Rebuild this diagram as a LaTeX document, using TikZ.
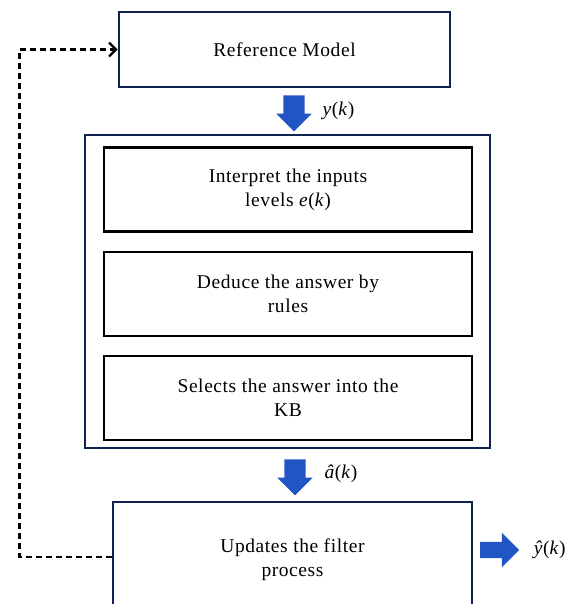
\documentclass[tikz,border=0pt]{standalone}
\usepackage{fontspec}
\setmainfont[LetterSpace=3]{Liberation Serif}
\usepackage{tikz}
\usetikzlibrary{arrows.meta,calc,positioning,shapes.arrows}
\definecolor{navy}{RGB}{15,35,80}
\definecolor{arrowblue}{RGB}{34,85,196}
\newcommand{\sym}[1]{\textit{#1}}

\begin{document}
\begin{tikzpicture}[x=1pt,y=-1pt,
  font=\fontsize{19.5}{24}\selectfont,
  mainbox/.style={draw=navy,line width=2.8pt,minimum width=#1,align=center,inner sep=0pt},
  mainbox/.default=331pt,
  subbox/.style={draw=black,line width=2.3pt,minimum width=368pt,minimum height=84pt,align=center,inner sep=0pt},
  blockarrow/.style={single arrow,fill=arrowblue,draw=none,minimum width=35pt,minimum height=36pt,
    single arrow head extend=7pt,single arrow tip angle=90,inner sep=10.5pt,shape border rotate=#1},
  blockarrow/.default=270,
  feedback/.style={draw=black,line width=2.4pt,dash pattern=on 6pt off 4pt,
    -{Straight Barb[length=7pt,width=14pt,line width=2.2pt]}},
  >={Stealth}]
  \clip (0,0) rectangle (575,604);
  \fill[white] (0,0) rectangle (575,604);
  \node[mainbox,minimum height=75pt] (ref) at (284.5,49.5) {Reference Model};
  \node[mainbox=405pt,minimum height=313pt] (rule) at (287.5,291.5) {};
  \node[subbox] (interp) at (288,189.5) {Interpret the inputs\\levels \sym{e}(\sym{k})};
  \node[subbox,below=18pt of interp] (deduce) {Deduce the answer by\\rules};
  \node[subbox,below=18pt of deduce] (select) {Selects the answer into the\\KB};
  \node[mainbox=359pt,minimum height=116pt] (update) at (292.5,560) {Updates the filter\\process};
  % blue flow arrows
  \node[blockarrow] (a1) at ($(ref.south)!0.5!(rule.north)+(8,-3)$) {};
  \node[anchor=west] (yk) at ($(a1.center)+(25,3)$) {\sym{y}(\sym{k})};
  \node[blockarrow] (a2) at ($(rule.south)!0.5!(update.north)+(5,-3)$) {};
  \node[anchor=west] (ak) at ($(a2.center)+(26,2)$) {\sym{\^a}(\sym{k})};
  \node[blockarrow=0,minimum width=34pt,minimum height=39pt,inner sep=8pt,single arrow head extend=9pt]
    (a3) at ($(update.east)+(22,-10)$) {};
  \node[anchor=west] (yhat) at ($(a3.center)+(35,0)$) {\sym{ŷ}(\sym{k})};
  % feedback loop
  \draw[feedback] ($(update.west)+(0,-3)$) -- ++(-92,0) |- (ref.west);
\end{tikzpicture}
\end{document}
